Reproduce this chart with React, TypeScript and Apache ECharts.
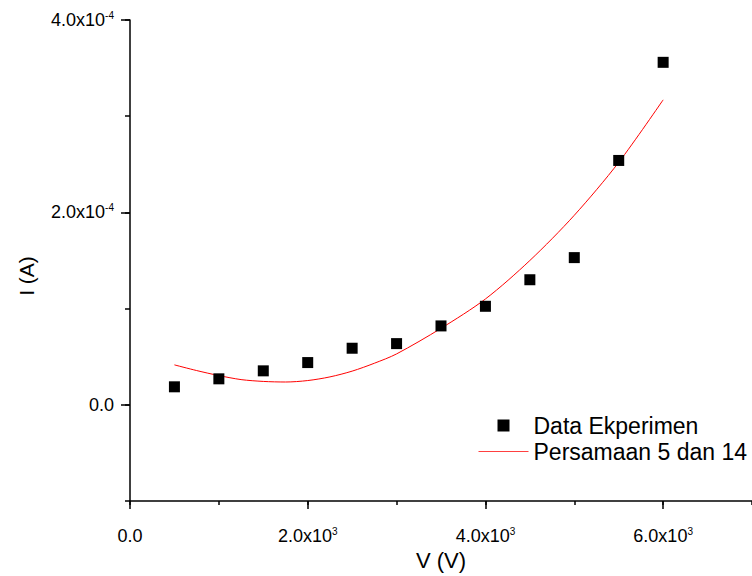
import React, { useEffect, useRef } from 'react';
import * as echarts from 'echarts';

// Experimental data: voltage (V) and current (A)
const voltages = [500, 1000, 1500, 2000, 2500, 3000, 3500, 4000, 4500, 5000, 5500, 6000];
const measuredCurrent = [
  0.187e-4, 0.27e-4, 0.353e-4, 0.439e-4, 0.588e-4, 0.636e-4,
  0.82e-4, 1.024e-4, 1.3e-4, 1.53e-4, 2.54e-4, 3.56e-4,
];

// Model curve (Persamaan 5 dan 14)
const modelVoltages = [
  500, 750, 1000, 1250, 1500, 1750, 2000, 2250, 2500, 2750, 3000, 3500, 4000, 4500, 5000, 5500, 6000,
];
const modelCurrent = [
  0.415e-4, 0.356e-4, 0.304e-4, 0.262e-4, 0.243e-4, 0.237e-4, 0.252e-4, 0.29e-4, 0.35e-4,
  0.432e-4, 0.529e-4, 0.795e-4, 1.1e-4, 1.5e-4, 1.97e-4, 2.52e-4, 3.17e-4,
];

// Labelled ticks
const xLabelTicks = [0, 2000, 4000, 6000];
const yLabelTicks = [0, 2e-4, 4e-4];

const FONT = '"Liberation Sans", Arial, Helvetica, sans-serif';

function sciLabel(v: number): string {
  if (v === 0) return '{m|0.0}';
  const exp = Math.floor(Math.log10(Math.abs(v)) + 1e-9);
  const m = v / Math.pow(10, exp);
  return `{m|${m.toFixed(1)}x10}{e|${exp}}`;
}

const rich = {
  m: { fontSize: 18, fontFamily: FONT, color: '#000', lineHeight: 20, verticalAlign: 'middle' },
  e: { fontSize: 10, fontFamily: FONT, color: '#000', lineHeight: 10, verticalAlign: 'top' },
};

export default function App() {
  const ref = useRef<HTMLDivElement>(null);
  useEffect(() => {
    if (!ref.current) return;
    const chart = echarts.init(ref.current, undefined, { renderer: 'svg' });
    const axisColor = '#000';
    chart.setOption({
      animation: false,
      backgroundColor: '#fff',
      grid: { left: 130, right: 0, top: 20, bottom: 74, containLabel: false },
      legend: {
        orient: 'vertical',
        left: 478,
        top: 414,
        padding: 0,
        itemWidth: 50,
        itemHeight: 12,
        itemGap: 3,
        textStyle: { fontSize: 23, fontFamily: FONT, color: '#000' },
        data: [
          { name: 'Data Ekperimen', icon: 'path://M0,0H10V10H0Z', itemStyle: { color: '#000', opacity: 1 } },
          {
            name: 'Persamaan 5 dan 14',
            itemStyle: { opacity: 0 },
            lineStyle: { color: '#ff4040', width: 1 },
          },
        ],
      },
      graphic: [
        {
          type: 'text',
          x: 26,
          y: 276,
          rotation: Math.PI / 2,
          style: {
            text: 'I (A)',
            fontSize: 21,
            fontFamily: FONT,
            fill: '#000',
            align: 'center',
            verticalAlign: 'middle',
          },
        },
      ],
      xAxis: [
        {
          type: 'value',
          min: 0,
          max: 7000,
          interval: 1000,
          position: 'bottom',
          axisLine: { show: true, onZero: false, lineStyle: { color: axisColor, width: 1.5 } },
          axisTick: { show: true, length: 4, lineStyle: { color: axisColor, width: 1.5 } },
          axisLabel: { show: false },
          splitLine: { show: false },
          name: 'V (V)',
          nameLocation: 'middle',
          nameGap: 48,
          nameTextStyle: { fontSize: 22, fontFamily: FONT, color: '#000' },
        },
        {
          type: 'value',
          min: 0,
          max: 7000,
          position: 'bottom',
          axisLine: { show: false, onZero: false },
          axisTick: { show: true, customValues: xLabelTicks, length: 8, lineStyle: { color: axisColor, width: 1.5 } },
          axisLabel: { show: true, customValues: xLabelTicks, formatter: sciLabel, margin: 25, rich },
          splitLine: { show: false },
        },
      ],
      yAxis: [
        {
          type: 'value',
          min: -1e-4,
          max: 4e-4,
          interval: 1e-4,
          position: 'left',
          axisLine: { show: true, onZero: false, lineStyle: { color: axisColor, width: 1.5 } },
          axisTick: { show: true, length: 5, lineStyle: { color: axisColor, width: 1.5 } },
          axisLabel: { show: false },
          splitLine: { show: false },
        },
        {
          type: 'value',
          min: -1e-4,
          max: 4e-4,
          position: 'left',
          axisLine: { show: false, onZero: false },
          axisTick: { show: true, customValues: yLabelTicks, length: 9, lineStyle: { color: axisColor, width: 1.5 } },
          axisLabel: { show: true, customValues: yLabelTicks, formatter: sciLabel, margin: 16, rich },
          splitLine: { show: false },
        },
      ],
      series: [
        {
          name: 'Data Ekperimen',
          type: 'scatter',
          xAxisIndex: 0,
          yAxisIndex: 0,
          symbol: 'rect',
          symbolSize: 11,
          itemStyle: { color: '#000', opacity: 1 },
          data: voltages.map((v, i) => [v, measuredCurrent[i]]),
          z: 3,
        },
        {
          name: 'Persamaan 5 dan 14',
          type: 'line',
          xAxisIndex: 0,
          yAxisIndex: 0,
          smooth: 0.3,
          symbol: 'none',
          showSymbol: false,
          lineStyle: { color: '#ff0000', width: 1 },
          itemStyle: { color: '#ff0000' },
          data: modelVoltages.map((v, i) => [v, modelCurrent[i]]),
          z: 2,
        },
      ],
    });
    return () => chart.dispose();
  }, []);
  return (
    <div
      ref={ref}
      style={{ position: 'fixed', left: 0, top: 0, width: 752, height: 576, background: '#fff' }}
    />
  );
}
